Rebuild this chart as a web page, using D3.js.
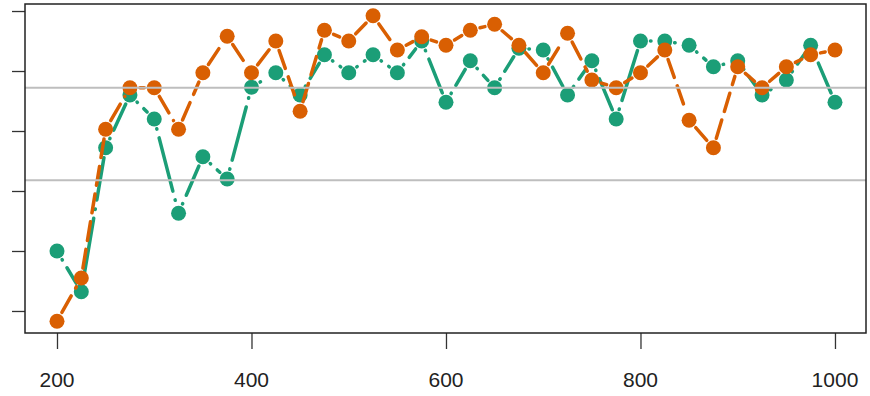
<!DOCTYPE html>
<html lang="en">
<head>
    <meta charset="UTF-8">
    <title>Two series line chart</title>
    <script src="https://d3js.org/d3.v7.min.js"></script>
    <style>
        body{
            margin: 0;
            background-color: #fff;
        }
        .tick-label{
            font-family: "Liberation Sans", Arial, sans-serif;
            font-size: 21px;
            fill: #222;
        }
    </style>
</head>
<body>
    <div id="chart"></div>
    <script>
// data (y in tick units, ticks at 0..5, no labels)
var xValues = d3.range(200, 1001, 25);
var greenValues = [1.0, 0.32, 2.72, 3.6, 3.2, 1.63, 2.57, 2.2, 3.73, 3.97, 3.6,
    4.27, 3.97, 4.27, 3.97, 4.5, 3.48, 4.17, 3.72, 4.38, 4.35, 3.6, 4.17,
    3.2, 4.5, 4.5, 4.43, 4.07, 4.17, 3.6, 3.85, 4.43, 3.48];
var orangeValues = [-0.17, 0.55, 3.03, 3.72, 3.72, 3.03, 3.97, 4.58, 3.97, 4.5, 3.33,
    4.68, 4.5, 4.92, 4.35, 4.57, 4.43, 4.68, 4.78, 4.43, 3.97, 4.63, 3.85,
    3.72, 3.97, 4.35, 3.18, 2.72, 4.07, 3.72, 4.07, 4.27, 4.35];
var refLines = [3.72, 2.18];
var xTicks = [200, 400, 600, 800, 1000];
var yTicks = [0, 1, 2, 3, 4, 5];

var width = 870, height = 396;
var box = {left: 25, right: 866, top: 4, bottom: 333};

var svg = d3.select("#chart")
  .append("svg")
    .attr("width", width)
    .attr("height", height);

var x = d3.scaleLinear().domain([167.1, 1031.9]).range([box.left, box.right]);
var y = d3.scaleLinear().domain([-0.367, 5.117]).range([box.bottom, box.top]);

// axes (R style: ticks outside the box, no y labels)
svg.append("g")
    .attr("transform", "translate(0," + box.bottom + ")")
    .call(d3.axisBottom(x).tickValues(xTicks).tickSize(16).tickFormat(""))
    .call(g => g.select(".domain").remove())
    .call(g => g.selectAll("line").attr("stroke", "#333").attr("stroke-width", 1.3));

svg.selectAll(".tick-label")
    .data(xTicks)
    .enter()
    .append("text")
      .attr("class", "tick-label")
      .attr("x", d => x(d))
      .attr("y", 387)
      .attr("text-anchor", "middle")
      .text(d => d);

svg.append("g")
    .attr("transform", "translate(" + box.left + ",0)")
    .call(d3.axisLeft(y).tickValues(yTicks).tickSize(13).tickFormat(""))
    .call(g => g.select(".domain").remove())
    .call(g => g.selectAll("line").attr("stroke", "#333").attr("stroke-width", 1.3));

// each segment drawn on its own, trimmed near the points, dash restarting
function drawSeries(values, color, dash) {
    var pts = xValues.map((d, i) => [x(d), y(values[i])]);
    var gap = 10;
    var segs = [];
    for (var i = 0; i < pts.length - 1; i++) {
        var a = pts[i], b = pts[i + 1];
        var dx = b[0] - a[0], dy = b[1] - a[1];
        var len = Math.sqrt(dx * dx + dy * dy);
        if (len <= 2 * gap) continue;
        var ux = dx / len, uy = dy / len;
        segs.push([a[0] + ux * gap, a[1] + uy * gap, b[0] - ux * gap, b[1] - uy * gap]);
    }
    var g = svg.append("g");
    g.selectAll("line")
        .data(segs)
        .enter()
        .append("line")
          .attr("x1", d => d[0]).attr("y1", d => d[1])
          .attr("x2", d => d[2]).attr("y2", d => d[3])
          .attr("stroke", color)
          .attr("stroke-width", 3.5)
          .attr("stroke-linecap", "round")
          .attr("stroke-dasharray", dash);
    g.selectAll("circle")
        .data(pts)
        .enter()
        .append("circle")
          .attr("cx", d => d[0])
          .attr("cy", d => d[1])
          .attr("r", 7.5)
          .attr("fill", color);
}

drawSeries(greenValues, "#1b9e77", "0.5,9,55,9");
drawSeries(orangeValues, "#d95f02", "19,9");

svg.selectAll(".ref")
    .data(refLines)
    .enter()
    .append("line")
      .attr("class", "ref")
      .attr("x1", box.left).attr("x2", box.right)
      .attr("y1", d => y(d)).attr("y2", d => y(d))
      .attr("stroke", "#bebebe")
      .attr("stroke-width", 2);

svg.append("rect")
    .attr("x", box.left)
    .attr("y", box.top)
    .attr("width", box.right - box.left)
    .attr("height", box.bottom - box.top)
    .attr("fill", "none")
    .attr("stroke", "#222")
    .attr("stroke-width", 1.5);
    </script>
</body>
</html>
